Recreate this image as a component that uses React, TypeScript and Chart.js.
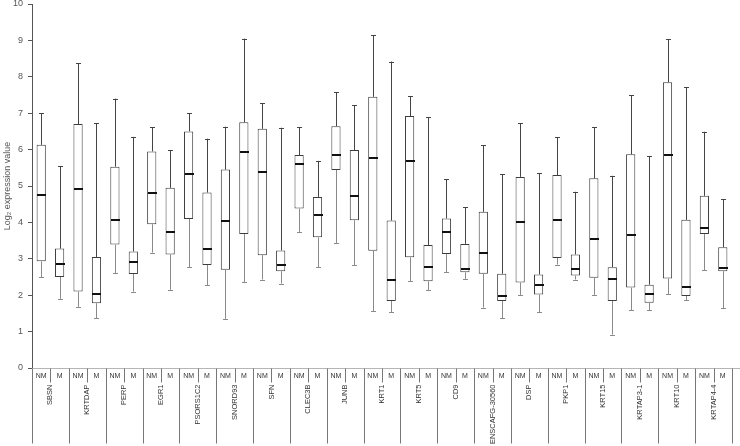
import React, { useEffect, useRef } from "react";
import { Chart, registerables } from "chart.js";

Chart.register(...registerables);

const genes = [
  "SBSN", "KRTDAP", "PERP", "EGR1", "PSORS1C2", "SNORD93", "SFN", "CLEC3B", "JUNB",
  "KRT1", "KRT5", "CD9", "ENSCAFG-30560", "DSP", "PKP1", "KRT15", "KRTAP3-1", "KRT10", "KRTAP4-4",
];
const groups = ["NM", "M"];
const yTicks = [0, 1, 2, 3, 4, 5, 6, 7, 8, 9, 10];

const whiskerMax = [7.0, 5.55, 8.37, 6.73, 7.4, 6.35, 6.62, 5.98, 7.0, 6.3, 6.63, 9.05, 7.28, 6.6, 6.61, 5.69, 7.58, 7.22, 9.14, 8.42, 7.47, 6.89, 5.18, 4.41, 6.12, 5.33, 6.72, 5.35, 6.34, 4.84, 6.61, 5.28, 7.49, 5.82, 9.03, 7.72, 6.49, 4.64];
const q3 = [6.13, 3.28, 6.7, 3.05, 5.53, 3.2, 5.95, 4.95, 6.5, 4.82, 5.45, 6.75, 6.57, 3.23, 5.85, 4.7, 6.64, 5.99, 7.45, 4.05, 6.92, 3.38, 4.11, 3.41, 4.29, 2.59, 5.25, 2.57, 5.3, 3.12, 5.21, 2.77, 5.87, 2.29, 7.85, 4.07, 4.73, 3.32];
const median = [4.76, 2.85, 4.92, 2.02, 4.07, 2.9, 4.8, 3.75, 5.34, 3.27, 4.05, 5.93, 5.39, 2.83, 5.6, 4.2, 5.85, 4.72, 5.77, 2.43, 5.69, 2.78, 3.74, 2.72, 3.16, 1.99, 4.0, 2.28, 4.07, 2.73, 3.54, 2.45, 3.65, 2.03, 5.86, 2.23, 3.85, 2.75];
const q1 = [2.93, 2.5, 2.1, 1.78, 3.39, 2.58, 3.95, 3.12, 4.09, 2.83, 2.7, 3.68, 3.1, 2.66, 4.38, 3.59, 5.44, 4.06, 3.22, 1.84, 3.04, 2.38, 3.13, 2.63, 2.59, 1.84, 2.35, 2.02, 3.02, 2.54, 2.48, 1.84, 2.21, 1.79, 2.46, 1.98, 3.68, 2.66];
const whiskerMin = [2.5, 1.9, 1.68, 1.36, 2.6, 2.1, 3.17, 2.15, 2.77, 2.28, 1.35, 2.36, 2.43, 2.32, 3.74, 2.77, 3.43, 2.82, 1.56, 1.53, 2.39, 2.13, 2.63, 2.45, 1.66, 1.36, 2.01, 1.54, 2.84, 2.43, 2.01, 0.92, 1.59, 1.59, 2.02, 1.86, 2.69, 1.64];

const labels: string[] = [];
genes.forEach(() => groups.forEach((g) => labels.push(g)));

const FONT = "'Liberation Sans', Arial, sans-serif";

const boxPlugin = {
  id: "boxExtras",
  afterDatasetsDraw(chart: any) {
    const ctx = chart.ctx;
    const xs = chart.scales.x;
    const ys = chart.scales.y;
    ctx.save();
    for (let i = 0; i < labels.length; i++) {
      const x = Math.round(xs.getPixelForValue(i)) + 0.5;
      const yMax = ys.getPixelForValue(whiskerMax[i]);
      const yQ3 = ys.getPixelForValue(q3[i]);
      const yQ1 = ys.getPixelForValue(q1[i]);
      const yMin = ys.getPixelForValue(whiskerMin[i]);
      const yMed = ys.getPixelForValue(median[i]);
      ctx.lineWidth = 1;
      ctx.strokeStyle = "#444";
      ctx.beginPath();
      ctx.moveTo(x, yQ3);
      ctx.lineTo(x, yMax);
      ctx.moveTo(x - 2.5, Math.round(yMax) + 0.5);
      ctx.lineTo(x + 2.5, Math.round(yMax) + 0.5);
      ctx.stroke();
      ctx.strokeStyle = "#8a8a8a";
      ctx.beginPath();
      ctx.moveTo(x, yQ1);
      ctx.lineTo(x, yMin);
      ctx.moveTo(x - 2.5, Math.round(yMin) + 0.5);
      ctx.lineTo(x + 2.5, Math.round(yMin) + 0.5);
      ctx.stroke();
      ctx.strokeStyle = "#111";
      ctx.lineWidth = 2;
      ctx.beginPath();
      ctx.moveTo(x - 4.5, Math.round(yMed));
      ctx.lineTo(x + 4.5, Math.round(yMed));
      ctx.stroke();
    }
    ctx.restore();
  },
  afterDraw(chart: any) {
    const ctx = chart.ctx;
    const xs = chart.scales.x;
    const area = chart.chartArea;
    const bottom = Math.round(area.bottom) + 0.5;
    const step = xs.getPixelForValue(1) - xs.getPixelForValue(0);
    ctx.save();
    // axis baseline
    ctx.strokeStyle = "#b5b5b5";
    ctx.lineWidth = 1;
    ctx.beginPath();
    ctx.moveTo(area.left, bottom);
    ctx.lineTo(chart.width, bottom);
    ctx.stroke();
    // dividers
    ctx.strokeStyle = "#777";
    ctx.beginPath();
    for (let g = 0; g <= genes.length; g++) {
      const x = Math.round(xs.getPixelForValue(g * 2) - step / 2) + 0.5;
      ctx.moveTo(x, bottom);
      ctx.lineTo(x, bottom + 75);
    }
    for (let g = 0; g < genes.length; g++) {
      const x = Math.round(xs.getPixelForValue(g * 2) + step / 2) + 0.5;
      ctx.moveTo(x, bottom);
      ctx.lineTo(x, bottom + 14);
    }
    ctx.stroke();
    // NM / M labels
    ctx.fillStyle = "#333";
    ctx.font = "7px " + FONT;
    ctx.textAlign = "center";
    ctx.textBaseline = "middle";
    for (let i = 0; i < labels.length; i++) {
      ctx.fillText(labels[i], xs.getPixelForValue(i), bottom + 7.5);
    }
    // gene labels rotated
    ctx.font = "7.5px " + FONT;
    for (let g = 0; g < genes.length; g++) {
      const x = xs.getPixelForValue(g * 2) + step / 2;
      ctx.save();
      ctx.translate(x, bottom + 16);
      ctx.rotate(-Math.PI / 2);
      ctx.textAlign = "right";
      ctx.textBaseline = "middle";
      ctx.fillText(genes[g], 0, 0);
      ctx.restore();
    }
    // y title
    ctx.save();
    ctx.translate(8, (area.top + area.bottom) / 2);
    ctx.rotate(-Math.PI / 2);
    ctx.fillStyle = "#555";
    ctx.font = "9px " + FONT;
    ctx.textAlign = "center";
    ctx.textBaseline = "middle";
    ctx.fillText("Log\u2082 expression value", 0, 0);
    ctx.restore();
    ctx.restore();
  },
};

export default function App() {
  const ref = useRef<HTMLCanvasElement>(null);
  useEffect(() => {
    document.body.style.margin = "0";
    if (!ref.current) return;
    const chart = new Chart(ref.current, {
      type: "bar",
      data: {
        labels,
        datasets: [
          {
            data: q1.map((v, i) => [v, q3[i]]) as any,
            backgroundColor: "#ffffff",
            borderColor: "#3c3c3c",
            borderWidth: 1,
            borderSkipped: false,
            barPercentage: 0.5,
            categoryPercentage: 1,
          },
        ],
      },
      options: {
        responsive: false,
        animation: false,
        events: [],
        layout: { padding: { top: 4, right: 8, bottom: 78, left: 0 } },
        plugins: { legend: { display: false }, tooltip: { enabled: false } },
        scales: {
          x: { display: false, offset: true },
          y: {
            min: 0,
            max: 10,
            afterFit(scale: any) {
              scale.width = 32;
              scale.paddingTop = 0;
              scale.paddingBottom = 0;
            },
            afterBuildTicks(scale: any) {
              scale.ticks = yTicks.map((v) => ({ value: v }));
            },
            ticks: { color: "#555", font: { size: 9, family: FONT }, padding: 5 },
            grid: { drawOnChartArea: false, tickLength: 4, color: "#555" },
            border: { color: "#555" },
          },
        },
      },
      plugins: [boxPlugin],
    });
    return () => chart.destroy();
  }, []);
  return <canvas ref={ref} width={740} height={446} />;
}
